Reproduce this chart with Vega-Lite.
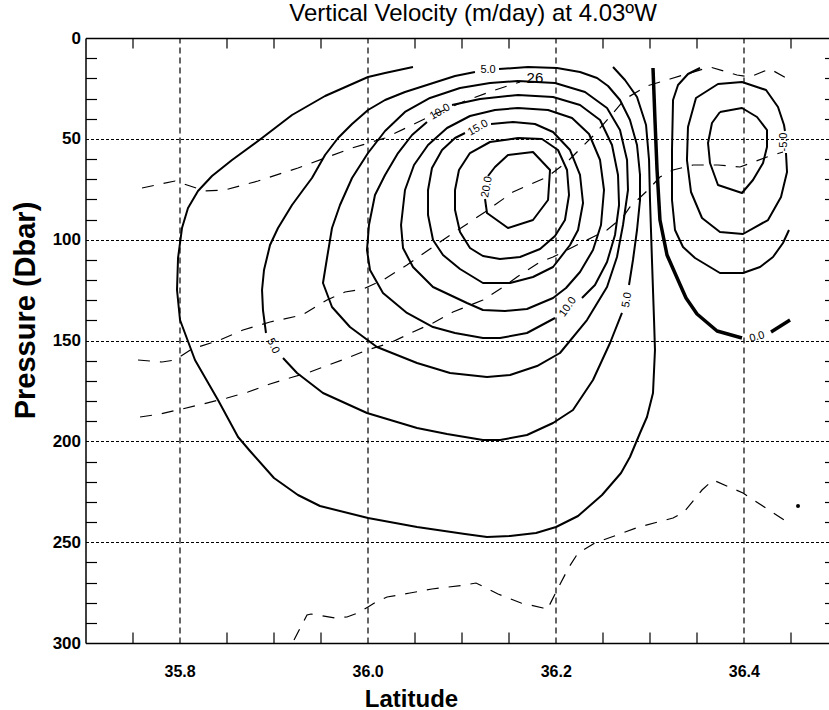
{
"$schema": "https://vega.github.io/schema/vega-lite/v6.json",
"width": 743, "height": 605,
"autosize": {"type": "none"},
"padding": {"left": 85.5, "top": 38, "right": 0.5, "bottom": 67},
"title": {"text": "Vertical Velocity (m/day) at 4.03ºW", "fontSize": 24, "font": "Liberation Sans", "fontWeight": "normal", "color": "black", "anchor": "middle", "offset": 3, "dx": 16},
"config": {
 "view": {"stroke": null},
 "font": "Liberation Sans",
 "axis": {"domainColor": "black", "domainWidth": 1.5, "tickColor": "black", "tickWidth": 1.2, "labelColor": "black", "labelFont": "Liberation Sans", "labelFontWeight": "bold", "titleColor": "black", "titleFont": "Liberation Sans", "titleFontWeight": "bold", "gridColor": "black", "gridWidth": 1.2}
},
"resolve": {"axis": {"x": "independent", "y": "independent"}},
"datasets": {
"solid": [
{"s":"L1","lat":36.0482,"p":14.38},{"s":"L1","lat":36.0185,"p":17.36},{"s":"L1","lat":36.0004,"p":19.34},{"s":"L1","lat":35.9547,"p":28.76},{"s":"L1","lat":35.9196,"p":38.18},{"s":"L1","lat":35.8877,"p":49.59},{"s":"L1","lat":35.8558,"p":60.5},{"s":"L1","lat":35.8345,"p":68.43},{"s":"L1","lat":35.8196,"p":75.87},{"s":"L1","lat":35.809,"p":84.3},{"s":"L1","lat":35.8026,"p":94.22},{"s":"L1","lat":35.7984,"p":109.09},{"s":"L1","lat":35.7973,"p":124.96},{"s":"L1","lat":35.8005,"p":139.84},{"s":"L1","lat":35.8164,"p":159.67},{"s":"L1","lat":35.8409,"p":179.51},{"s":"L1","lat":35.8622,"p":197.85},{"s":"L1","lat":35.8749,"p":204.79},{"s":"L1","lat":35.9004,"p":218.18},{"s":"L1","lat":35.9259,"p":226.61},{"s":"L1","lat":35.9493,"p":232.07},{"s":"L1","lat":36.0004,"p":238.02},{"s":"L1","lat":36.0525,"p":242.48},{"s":"L1","lat":36.1035,"p":245.95},{"s":"L1","lat":36.1269,"p":247.44},{"s":"L1","lat":36.1514,"p":246.94},{"s":"L1","lat":36.179,"p":245.46},{"s":"L1","lat":36.2003,"p":242.48},{"s":"L1","lat":36.2237,"p":237.03},{"s":"L1","lat":36.2492,"p":226.61},{"s":"L1","lat":36.2694,"p":215.7},{"s":"L1","lat":36.2789,"p":207.77},{"s":"L1","lat":36.2896,"p":195.87},{"s":"L1","lat":36.297,"p":187.94},{"s":"L1","lat":36.3034,"p":176.03},{"s":"L1","lat":36.3055,"p":154.71},{"s":"L1","lat":36.3045,"p":139.84},{"s":"L1","lat":36.3023,"p":110.08},{"s":"L1","lat":36.3002,"p":80.33},{"s":"L1","lat":36.2992,"p":60.5},{"s":"L1","lat":36.296,"p":43.14},{"s":"L1","lat":36.2864,"p":29.26},{"s":"L1","lat":36.2736,"p":20.83},{"s":"L1","lat":36.2609,"p":14.38},
{"s":"L2a","lat":36.1397,"p":15.37},{"s":"L2a","lat":36.1705,"p":14.38},{"s":"L2a","lat":36.2013,"p":14.88},{"s":"L2a","lat":36.2258,"p":16.86},{"s":"L2a","lat":36.2439,"p":19.84},{"s":"L2a","lat":36.2556,"p":23.8},{"s":"L2a","lat":36.2683,"p":30.74},{"s":"L2a","lat":36.2789,"p":40.66},{"s":"L2a","lat":36.2864,"p":53.06},{"s":"L2a","lat":36.2896,"p":67.93},{"s":"L2a","lat":36.2896,"p":80.33},{"s":"L2a","lat":36.2864,"p":95.21},{"s":"L2a","lat":36.2821,"p":110.08},{"s":"L2a","lat":36.2779,"p":122.48},
{"s":"L2b","lat":36.2704,"p":136.36},{"s":"L2b","lat":36.2577,"p":151.24},{"s":"L2b","lat":36.2396,"p":169.59},{"s":"L2b","lat":36.2183,"p":184.46},{"s":"L2b","lat":36.1971,"p":190.91},{"s":"L2b","lat":36.1694,"p":196.86},{"s":"L2b","lat":36.1407,"p":199.34},{"s":"L2b","lat":36.1226,"p":199.34},{"s":"L2b","lat":36.0844,"p":196.37},{"s":"L2b","lat":36.0525,"p":193.39},{"s":"L2b","lat":35.9993,"p":185.95},{"s":"L2b","lat":35.9525,"p":176.03},{"s":"L2b","lat":35.9249,"p":166.12},{"s":"L2b","lat":35.91,"p":158.68},
{"s":"L2c","lat":35.8919,"p":146.28},{"s":"L2c","lat":35.8887,"p":134.88},{"s":"L2c","lat":35.8877,"p":124.96},{"s":"L2c","lat":35.8898,"p":115.04},{"s":"L2c","lat":35.8962,"p":102.65},{"s":"L2c","lat":35.9047,"p":94.22},{"s":"L2c","lat":35.9196,"p":82.81},{"s":"L2c","lat":35.9313,"p":75.37},{"s":"L2c","lat":35.9408,"p":69.42},{"s":"L2c","lat":35.9547,"p":58.02},{"s":"L2c","lat":35.9685,"p":49.59},{"s":"L2c","lat":35.9834,"p":42.65},{"s":"L2c","lat":36.0004,"p":35.7},{"s":"L2c","lat":36.0185,"p":30.74},{"s":"L2c","lat":36.0397,"p":26.78},{"s":"L2c","lat":36.0663,"p":22.81},{"s":"L2c","lat":36.0929,"p":18.84},{"s":"L2c","lat":36.1141,"p":16.86},
{"s":"L3","lat":36.1599,"p":21.32},{"s":"L3","lat":36.1992,"p":22.31},{"s":"L3","lat":36.2311,"p":26.78},{"s":"L3","lat":36.2545,"p":34.71},{"s":"L3","lat":36.2683,"p":45.62},{"s":"L3","lat":36.2758,"p":60.5},{"s":"L3","lat":36.2768,"p":75.37},{"s":"L3","lat":36.2715,"p":92.73},{"s":"L3","lat":36.2651,"p":108.6},{"s":"L3","lat":36.2545,"p":123.47},{"s":"L3","lat":36.2332,"p":139.84},{"s":"L3","lat":36.2045,"p":156.2},{"s":"L3","lat":36.1801,"p":162.65},{"s":"L3","lat":36.1514,"p":167.11},{"s":"L3","lat":36.1269,"p":168.1},{"s":"L3","lat":36.0876,"p":166.12},{"s":"L3","lat":36.0525,"p":161.16},{"s":"L3","lat":36.0099,"p":153.22},{"s":"L3","lat":35.9812,"p":143.31},{"s":"L3","lat":35.9621,"p":133.39},{"s":"L3","lat":35.9525,"p":121.49},{"s":"L3","lat":35.9568,"p":109.09},{"s":"L3","lat":35.9621,"p":94.22},{"s":"L3","lat":35.9706,"p":82.81},{"s":"L3","lat":35.9834,"p":69.42},{"s":"L3","lat":36.0004,"p":57.03},{"s":"L3","lat":36.0185,"p":46.12},{"s":"L3","lat":36.0397,"p":36.69},{"s":"L3","lat":36.0663,"p":29.75},{"s":"L3","lat":36.0982,"p":24.79},{"s":"L3","lat":36.1301,"p":22.31},{"s":"L3","lat":36.1599,"p":21.32},
{"s":"L4a","lat":36.0897,"p":33.22},{"s":"L4a","lat":36.1195,"p":30.25},{"s":"L4a","lat":36.1599,"p":28.26},{"s":"L4a","lat":36.1971,"p":29.26},{"s":"L4a","lat":36.2258,"p":33.22},{"s":"L4a","lat":36.2471,"p":40.66},{"s":"L4a","lat":36.2598,"p":53.06},{"s":"L4a","lat":36.2662,"p":67.93},{"s":"L4a","lat":36.2673,"p":82.81},{"s":"L4a","lat":36.263,"p":97.69},{"s":"L4a","lat":36.2545,"p":111.08},{"s":"L4a","lat":36.2417,"p":122.48},{"s":"L4a","lat":36.2279,"p":128.93},
{"s":"L4b","lat":36.1992,"p":138.84},{"s":"L4b","lat":36.1694,"p":146.28},{"s":"L4b","lat":36.1407,"p":148.76},{"s":"L4b","lat":36.1226,"p":148.76},{"s":"L4b","lat":36.0929,"p":146.28},{"s":"L4b","lat":36.0695,"p":143.31},{"s":"L4b","lat":36.0418,"p":136.36},{"s":"L4b","lat":36.0163,"p":126.45},{"s":"L4b","lat":36.0025,"p":115.04},{"s":"L4b","lat":35.9993,"p":105.12},{"s":"L4b","lat":36.0014,"p":92.73},{"s":"L4b","lat":36.0078,"p":77.85},{"s":"L4b","lat":36.0185,"p":67.93},{"s":"L4b","lat":36.0323,"p":57.03},{"s":"L4b","lat":36.0472,"p":48.1},{"s":"L4b","lat":36.0631,"p":41.65},
{"s":"L5","lat":36.1599,"p":34.71},{"s":"L5","lat":36.1918,"p":35.7},{"s":"L5","lat":36.2173,"p":39.67},{"s":"L5","lat":36.2354,"p":47.6},{"s":"L5","lat":36.2471,"p":60.5},{"s":"L5","lat":36.2513,"p":75.37},{"s":"L5","lat":36.2481,"p":92.73},{"s":"L5","lat":36.2396,"p":105.12},{"s":"L5","lat":36.2258,"p":116.03},{"s":"L5","lat":36.2109,"p":123.97},{"s":"L5","lat":36.1971,"p":128.93},{"s":"L5","lat":36.1694,"p":134.38},{"s":"L5","lat":36.146,"p":135.37},{"s":"L5","lat":36.1226,"p":134.88},{"s":"L5","lat":36.1056,"p":131.41},{"s":"L5","lat":36.0695,"p":123.47},{"s":"L5","lat":36.0482,"p":113.55},{"s":"L5","lat":36.0376,"p":104.13},{"s":"L5","lat":36.0355,"p":92.73},{"s":"L5","lat":36.0397,"p":75.37},{"s":"L5","lat":36.0493,"p":62.98},{"s":"L5","lat":36.0642,"p":53.06},{"s":"L5","lat":36.0844,"p":44.63},{"s":"L5","lat":36.1088,"p":38.68},{"s":"L5","lat":36.1354,"p":35.7},{"s":"L5","lat":36.1599,"p":34.71},
{"s":"L6","lat":36.1312,"p":42.65},{"s":"L6","lat":36.1545,"p":41.65},{"s":"L6","lat":36.1779,"p":42.65},{"s":"L6","lat":36.1971,"p":46.61},{"s":"L6","lat":36.2152,"p":55.54},{"s":"L6","lat":36.2258,"p":67.93},{"s":"L6","lat":36.229,"p":81.82},{"s":"L6","lat":36.2237,"p":95.21},{"s":"L6","lat":36.2152,"p":102.65},{"s":"L6","lat":36.1971,"p":113.55},{"s":"L6","lat":36.1758,"p":118.51},{"s":"L6","lat":36.1514,"p":121.49},{"s":"L6","lat":36.1226,"p":121.49},{"s":"L6","lat":36.0982,"p":114.55},{"s":"L6","lat":36.0801,"p":107.6},{"s":"L6","lat":36.0695,"p":100.17},{"s":"L6","lat":36.0642,"p":87.77},{"s":"L6","lat":36.0642,"p":75.37},{"s":"L6","lat":36.0684,"p":64.46},{"s":"L6","lat":36.0791,"p":55.54},{"s":"L6","lat":36.0929,"p":49.59},{"s":"L6","lat":36.1035,"p":47.11},
{"s":"L7","lat":36.1599,"p":49.59},{"s":"L7","lat":36.1854,"p":50.08},{"s":"L7","lat":36.2024,"p":55.54},{"s":"L7","lat":36.212,"p":65.46},{"s":"L7","lat":36.2141,"p":77.85},{"s":"L7","lat":36.2098,"p":90.25},{"s":"L7","lat":36.1992,"p":98.18},{"s":"L7","lat":36.1833,"p":104.63},{"s":"L7","lat":36.162,"p":108.6},{"s":"L7","lat":36.1407,"p":109.59},{"s":"L7","lat":36.1226,"p":108.1},{"s":"L7","lat":36.1088,"p":104.13},{"s":"L7","lat":36.0982,"p":96.2},{"s":"L7","lat":36.0929,"p":85.29},{"s":"L7","lat":36.0929,"p":75.37},{"s":"L7","lat":36.0971,"p":65.46},{"s":"L7","lat":36.1088,"p":57.03},{"s":"L7","lat":36.1301,"p":51.57},{"s":"L7","lat":36.1599,"p":49.59},
{"s":"L8","lat":36.128,"p":68.43},{"s":"L8","lat":36.1354,"p":63.97},{"s":"L8","lat":36.1492,"p":58.02},{"s":"L8","lat":36.1758,"p":56.53},{"s":"L8","lat":36.1939,"p":65.46},{"s":"L8","lat":36.1918,"p":80.33},{"s":"L8","lat":36.1758,"p":90.25},{"s":"L8","lat":36.1492,"p":94.22},{"s":"L8","lat":36.1269,"p":86.78},{"s":"L8","lat":36.1248,"p":79.84},
{"s":"N1","lat":36.3534,"p":14.88},{"s":"N1","lat":36.3406,"p":17.85},{"s":"N1","lat":36.33,"p":23.31},{"s":"N1","lat":36.3247,"p":30.74},{"s":"N1","lat":36.3236,"p":55.54},{"s":"N1","lat":36.3236,"p":80.33},{"s":"N1","lat":36.3268,"p":95.21},{"s":"N1","lat":36.3353,"p":103.64},{"s":"N1","lat":36.3481,"p":109.09},{"s":"N1","lat":36.3746,"p":116.53},{"s":"N1","lat":36.3991,"p":116.53},{"s":"N1","lat":36.4172,"p":113.55},{"s":"N1","lat":36.431,"p":108.6},{"s":"N1","lat":36.4416,"p":101.65},{"s":"N1","lat":36.448,"p":95.21},
{"s":"N2","lat":36.4448,"p":57.03},{"s":"N2","lat":36.4459,"p":66.45},{"s":"N2","lat":36.4395,"p":78.84},{"s":"N2","lat":36.4257,"p":90.25},{"s":"N2","lat":36.3991,"p":97.19},{"s":"N2","lat":36.3746,"p":96.2},{"s":"N2","lat":36.3555,"p":89.26},{"s":"N2","lat":36.3438,"p":76.36},{"s":"N2","lat":36.3395,"p":60.5},{"s":"N2","lat":36.3406,"p":44.13},{"s":"N2","lat":36.3491,"p":29.75},{"s":"N2","lat":36.3725,"p":22.81},{"s":"N2","lat":36.398,"p":21.82},{"s":"N2","lat":36.4236,"p":25.79},{"s":"N2","lat":36.4363,"p":34.21},{"s":"N2","lat":36.4427,"p":43.14},{"s":"N2","lat":36.4437,"p":46.12},
{"s":"N3","lat":36.3746,"p":36.69},{"s":"N3","lat":36.398,"p":34.71},{"s":"N3","lat":36.414,"p":39.17},{"s":"N3","lat":36.4246,"p":45.62},{"s":"N3","lat":36.4246,"p":54.05},{"s":"N3","lat":36.4204,"p":61.98},{"s":"N3","lat":36.4097,"p":70.41},{"s":"N3","lat":36.398,"p":76.86},{"s":"N3","lat":36.3725,"p":72.89},{"s":"N3","lat":36.364,"p":61.98},{"s":"N3","lat":36.3619,"p":52.07},{"s":"N3","lat":36.3661,"p":42.15},{"s":"N3","lat":36.3746,"p":36.69}
],
"zero": [
{"s":"Ta","lat":36.3034,"p":14.88},{"s":"Ta","lat":36.3055,"p":40.66},{"s":"Ta","lat":36.3077,"p":65.46},{"s":"Ta","lat":36.3108,"p":90.25},{"s":"Ta","lat":36.3183,"p":107.6},{"s":"Ta","lat":36.33,"p":120},{"s":"Ta","lat":36.3385,"p":128.93},{"s":"Ta","lat":36.3502,"p":136.86},{"s":"Ta","lat":36.3715,"p":145.29},{"s":"Ta","lat":36.398,"p":148.76},
{"s":"Tb","lat":36.4289,"p":145.79},{"s":"Tb","lat":36.4491,"p":139.84}
],
"dash": [
{"s":"D1","lat":35.7601,"p":74.38},{"s":"D1","lat":35.7952,"p":70.91},{"s":"D1","lat":35.8271,"p":75.87},{"s":"D1","lat":35.8483,"p":75.37},{"s":"D1","lat":35.8834,"p":70.91},{"s":"D1","lat":35.9259,"p":64.46},{"s":"D1","lat":35.9547,"p":59.5},{"s":"D1","lat":35.9834,"p":54.55},{"s":"D1","lat":36.0185,"p":49.59},{"s":"D1","lat":36.045,"p":43.64},{"s":"D1","lat":36.0716,"p":37.69},{"s":"D1","lat":36.1035,"p":31.24},{"s":"D1","lat":36.1354,"p":25.79},{"s":"D1","lat":36.162,"p":21.82},
{"s":"D2","lat":35.7558,"p":159.67},{"s":"D2","lat":35.7813,"p":160.66},{"s":"D2","lat":35.7952,"p":159.67},{"s":"D2","lat":35.8132,"p":154.22},{"s":"D2","lat":35.843,"p":149.75},{"s":"D2","lat":35.8675,"p":144.79},{"s":"D2","lat":35.8962,"p":140.83},{"s":"D2","lat":35.9302,"p":137.36},{"s":"D2","lat":35.9568,"p":129.92},{"s":"D2","lat":35.9759,"p":125.95},{"s":"D2","lat":35.9951,"p":124.46},{"s":"D2","lat":36.0163,"p":120},{"s":"D2","lat":36.0418,"p":112.56},{"s":"D2","lat":36.0801,"p":100.17},{"s":"D2","lat":36.1248,"p":86.28},{"s":"D2","lat":36.1545,"p":76.36},{"s":"D2","lat":36.1907,"p":68.93},{"s":"D2","lat":36.212,"p":61.49},{"s":"D2","lat":36.2396,"p":48.6},{"s":"D2","lat":36.2556,"p":40.17},{"s":"D2","lat":36.2736,"p":30.25},{"s":"D2","lat":36.297,"p":23.8},{"s":"D2","lat":36.3215,"p":20.33},{"s":"D2","lat":36.3427,"p":17.36},{"s":"D2","lat":36.364,"p":14.38},{"s":"D2","lat":36.3821,"p":16.86},{"s":"D2","lat":36.3927,"p":18.35},{"s":"D2","lat":36.4065,"p":19.34},{"s":"D2","lat":36.4193,"p":16.86},{"s":"D2","lat":36.4278,"p":15.37},{"s":"D2","lat":36.4491,"p":20.83},
{"s":"D3","lat":35.758,"p":187.94},{"s":"D3","lat":35.7792,"p":186.45},{"s":"D3","lat":35.8026,"p":183.97},{"s":"D3","lat":35.8249,"p":181.49},{"s":"D3","lat":35.8505,"p":178.51},{"s":"D3","lat":35.8728,"p":175.54},{"s":"D3","lat":35.8962,"p":171.57},{"s":"D3","lat":35.9206,"p":168.1},{"s":"D3","lat":35.9387,"p":165.62},{"s":"D3","lat":35.9812,"p":158.18},{"s":"D3","lat":35.9993,"p":154.71},{"s":"D3","lat":36.0238,"p":151.24},{"s":"D3","lat":36.0482,"p":145.79},{"s":"D3","lat":36.0695,"p":141.32},{"s":"D3","lat":36.0907,"p":135.87},{"s":"D3","lat":36.1226,"p":129.92},{"s":"D3","lat":36.1439,"p":123.47},{"s":"D3","lat":36.1588,"p":118.51},{"s":"D3","lat":36.1833,"p":111.08},{"s":"D3","lat":36.1971,"p":108.6},{"s":"D3","lat":36.2183,"p":103.64},{"s":"D3","lat":36.2396,"p":98.68},{"s":"D3","lat":36.2545,"p":95.21},{"s":"D3","lat":36.2715,"p":88.76},{"s":"D3","lat":36.2789,"p":83.8},{"s":"D3","lat":36.2981,"p":75.37},{"s":"D3","lat":36.3108,"p":68.93},{"s":"D3","lat":36.3247,"p":65.46},{"s":"D3","lat":36.3459,"p":62.98},{"s":"D3","lat":36.3725,"p":62.98},{"s":"D3","lat":36.3959,"p":63.97},{"s":"D3","lat":36.4246,"p":59.01},{"s":"D3","lat":36.4416,"p":56.53},
{"s":"D5","lat":35.9217,"p":298.51},{"s":"D5","lat":35.9355,"p":286.12},{"s":"D5","lat":35.9398,"p":285.62},{"s":"D5","lat":35.9653,"p":287.6},{"s":"D5","lat":35.978,"p":287.11},{"s":"D5","lat":35.9897,"p":285.13},{"s":"D5","lat":36.0004,"p":282.15},{"s":"D5","lat":36.0089,"p":279.67},{"s":"D5","lat":36.0206,"p":277.19},{"s":"D5","lat":36.045,"p":275.21},{"s":"D5","lat":36.0684,"p":273.22},{"s":"D5","lat":36.1035,"p":271.24},{"s":"D5","lat":36.1152,"p":270.25},{"s":"D5","lat":36.1386,"p":275.7},{"s":"D5","lat":36.1631,"p":280.17},{"s":"D5","lat":36.1864,"p":282.65},{"s":"D5","lat":36.1907,"p":283.64},{"s":"D5","lat":36.2003,"p":274.71},{"s":"D5","lat":36.2141,"p":262.32},{"s":"D5","lat":36.2237,"p":255.37},{"s":"D5","lat":36.2417,"p":250.41},{"s":"D5","lat":36.2651,"p":246.45},{"s":"D5","lat":36.2885,"p":242.48},{"s":"D5","lat":36.3247,"p":238.02},{"s":"D5","lat":36.3364,"p":235.04},{"s":"D5","lat":36.3555,"p":224.13},{"s":"D5","lat":36.3672,"p":219.18},{"s":"D5","lat":36.3991,"p":225.62},{"s":"D5","lat":36.4427,"p":239.01}
],
"labels": [
{"g":"a0","t":"5.0","lat":36.128,"p":15.87},
{"g":"big","t":"26","lat":36.1779,"p":19.84},
{"g":"a30","t":"10.0","lat":36.0769,"p":36.69},
{"g":"a30","t":"15.0","lat":36.1173,"p":44.63},
{"g":"a55","t":"10.0","lat":36.213,"p":133.39},
{"g":"a80","t":"20.0","lat":36.1269,"p":73.89},
{"g":"a80","t":"5.0","lat":36.2758,"p":129.92},
{"g":"p65","t":"5.0","lat":35.8994,"p":152.73},
{"g":"a15","t":"0.0","lat":36.414,"p":148.27},
{"g":"a90","t":"-5.0","lat":36.4427,"p":51.57}
],
"dots": [{"lat":36.4576,"p":232.07}]
},
"layer": [
{"data": {"name": "solid"},
 "mark": {"type": "line", "color": "black", "strokeWidth": 2, "strokeJoin": "round", "clip": true},
 "encoding": {
  "x": {"field": "lat", "type": "quantitative", "scale": {"domain": [35.7, 36.49], "nice": false, "zero": false},
   "axis": {"orient": "bottom", "values": [35.75,35.8,35.85,35.9,35.95,36.0,36.05,36.1,36.15,36.2,36.25,36.3,36.35,36.4,36.45],
    "tickSize": -11, "labelPadding": 31, "labelFontSize": 16, "labelFlush": false, "labelOverlap": false, "labelBound": false,
    "labelExpr": "abs(datum.value*5-round(datum.value*5))<0.01 ? format(datum.value,'.1f') : ''",
    "tickOpacity": {"condition": {"test": "abs(datum.value*5-round(datum.value*5))<0.01", "value": 0}, "value": 1},
    "grid": true, "gridDash": [6, 4],
    "gridOpacity": {"condition": {"test": "abs(datum.value*5-round(datum.value*5))<0.01", "value": 1}, "value": 0},
    "title": "Latitude", "titleFontSize": 24, "titleX": 325.5, "titleY": 63, "titleAlign": "center", "titleBaseline": "alphabetic", "titleAnchor": null}},
  "y": {"field": "p", "type": "quantitative", "scale": {"domain": [0, 300], "reverse": true, "nice": false, "zero": false},
   "axis": {"orient": "left", "values": [0,10,20,30,40,50,60,70,80,90,100,110,120,130,140,150,160,170,180,190,200,210,220,230,240,250,260,270,280,290,300],
    "tickSize": -11, "labelPadding": 16, "labelFontSize": 17, "labelFlush": false, "labelOverlap": false, "labelBound": false,
    "labelExpr": "datum.value % 50 == 0 ? datum.label : ''",
    "tickOpacity": {"condition": {"test": "datum.value % 50 == 0", "value": 0}, "value": 1},
    "grid": true, "gridDash": [3, 2],
    "gridOpacity": {"condition": {"test": "datum.value % 50 == 0 && datum.value > 0 && datum.value < 300", "value": 1}, "value": 0},
    "title": "Pressure (Dbar)", "titleFontSize": 29, "titleAngle": -90, "titleX": -51, "titleY": 272, "titleAlign": "center", "titleBaseline": "alphabetic"}},
  "detail": {"field": "s"},
  "order": {"value": null}
 }},
{"data": {"name": "zero"},
 "mark": {"type": "line", "color": "black", "strokeWidth": 3.5, "strokeJoin": "round", "clip": true},
 "encoding": {
  "x": {"field": "lat", "type": "quantitative", "scale": {"domain": [35.7, 36.49], "nice": false, "zero": false}, "axis": null},
  "y": {"field": "p", "type": "quantitative", "scale": {"domain": [0, 300], "reverse": true, "nice": false, "zero": false}, "axis": null},
  "detail": {"field": "s"},
  "order": {"value": null}
 }},
{"data": {"name": "dash"},
 "mark": {"type": "line", "color": "black", "strokeWidth": 1.2, "strokeDash": [12, 10], "clip": true},
 "encoding": {
  "x": {"field": "lat", "type": "quantitative", "scale": {"domain": [35.7, 36.49], "nice": false, "zero": false}, "axis": null},
  "y": {"field": "p", "type": "quantitative", "scale": {"domain": [0, 300], "reverse": true, "nice": false, "zero": false}, "axis": null},
  "detail": {"field": "s"},
  "order": {"value": null}
 }},
{"data": {"name": "labels"}, "transform": [{"filter": "datum.g == 'a0'"}],
 "mark": {"type": "text", "angle": 0, "fontSize": 11, "font": "Liberation Sans", "color": "black", "align": "center", "baseline": "middle"},
 "encoding": {"x": {"field": "lat", "type": "quantitative", "axis": null}, "y": {"field": "p", "type": "quantitative", "axis": null}, "text": {"field": "t"}}},
{"data": {"name": "labels"}, "transform": [{"filter": "datum.g == 'big'"}],
 "mark": {"type": "text", "angle": 0, "fontSize": 15, "font": "Liberation Sans", "color": "black", "align": "center", "baseline": "middle"},
 "encoding": {"x": {"field": "lat", "type": "quantitative", "axis": null}, "y": {"field": "p", "type": "quantitative", "axis": null}, "text": {"field": "t"}}},
{"data": {"name": "labels"}, "transform": [{"filter": "datum.g == 'a30'"}],
 "mark": {"type": "text", "angle": -30, "fontSize": 11, "font": "Liberation Sans", "color": "black", "align": "center", "baseline": "middle"},
 "encoding": {"x": {"field": "lat", "type": "quantitative", "axis": null}, "y": {"field": "p", "type": "quantitative", "axis": null}, "text": {"field": "t"}}},
{"data": {"name": "labels"}, "transform": [{"filter": "datum.g == 'a55'"}],
 "mark": {"type": "text", "angle": -55, "fontSize": 11, "font": "Liberation Sans", "color": "black", "align": "center", "baseline": "middle"},
 "encoding": {"x": {"field": "lat", "type": "quantitative", "axis": null}, "y": {"field": "p", "type": "quantitative", "axis": null}, "text": {"field": "t"}}},
{"data": {"name": "labels"}, "transform": [{"filter": "datum.g == 'a80'"}],
 "mark": {"type": "text", "angle": -80, "fontSize": 11, "font": "Liberation Sans", "color": "black", "align": "center", "baseline": "middle"},
 "encoding": {"x": {"field": "lat", "type": "quantitative", "axis": null}, "y": {"field": "p", "type": "quantitative", "axis": null}, "text": {"field": "t"}}},
{"data": {"name": "labels"}, "transform": [{"filter": "datum.g == 'p65'"}],
 "mark": {"type": "text", "angle": 65, "fontSize": 11, "font": "Liberation Sans", "color": "black", "align": "center", "baseline": "middle"},
 "encoding": {"x": {"field": "lat", "type": "quantitative", "axis": null}, "y": {"field": "p", "type": "quantitative", "axis": null}, "text": {"field": "t"}}},
{"data": {"name": "labels"}, "transform": [{"filter": "datum.g == 'a15'"}],
 "mark": {"type": "text", "angle": -15, "fontSize": 11, "font": "Liberation Sans", "color": "black", "align": "center", "baseline": "middle"},
 "encoding": {"x": {"field": "lat", "type": "quantitative", "axis": null}, "y": {"field": "p", "type": "quantitative", "axis": null}, "text": {"field": "t"}}},
{"data": {"name": "labels"}, "transform": [{"filter": "datum.g == 'a90'"}],
 "mark": {"type": "text", "angle": -90, "fontSize": 11, "font": "Liberation Sans", "color": "black", "align": "center", "baseline": "middle"},
 "encoding": {"x": {"field": "lat", "type": "quantitative", "axis": null}, "y": {"field": "p", "type": "quantitative", "axis": null}, "text": {"field": "t"}}},
{"data": {"name": "dots"},
 "mark": {"type": "point", "filled": true, "shape": "circle", "size": 16, "color": "black", "opacity": 1},
 "encoding": {
  "x": {"field": "lat", "type": "quantitative", "scale": {"domain": [35.7, 36.49], "nice": false, "zero": false},
   "axis": {"orient": "top", "values": [35.75,35.8,35.85,35.9,35.95,36.0,36.05,36.1,36.15,36.2,36.25,36.3,36.35,36.4,36.45],
    "tickSize": -10, "labels": false, "grid": false, "title": null,
    "tickOpacity": {"condition": {"test": "abs(datum.value*5-round(datum.value*5))<0.01", "value": 0}, "value": 1}}},
  "y": {"field": "p", "type": "quantitative", "scale": {"domain": [0, 300], "reverse": true, "nice": false, "zero": false},
   "axis": {"orient": "right", "values": [10,20,30,40,60,70,80,90,110,120,130,140,160,170,180,190,210,220,230,240,260,270,280,290],
    "tickSize": -4, "labels": false, "grid": false, "domain": false, "title": null}}
 }}
]
}
